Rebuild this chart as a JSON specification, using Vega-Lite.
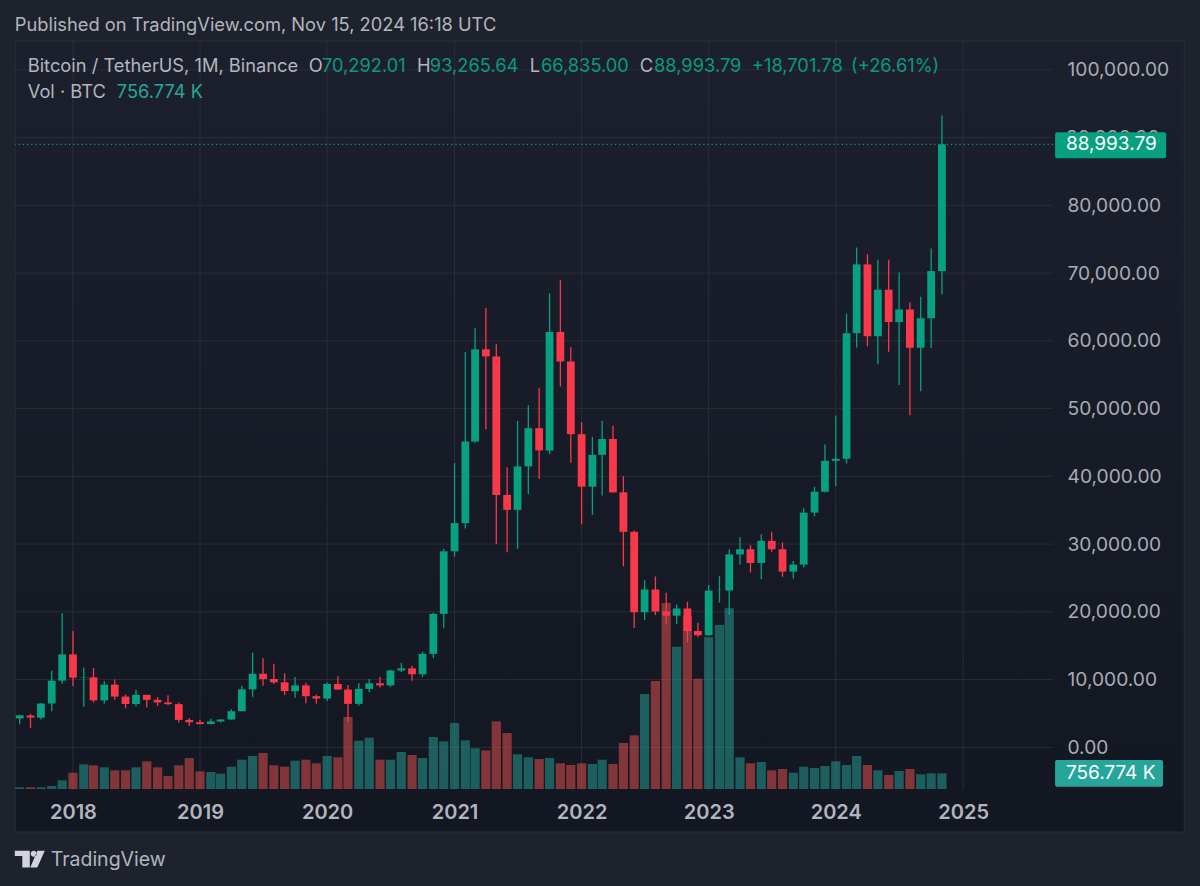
{
"$schema":"https://vega.github.io/schema/vega-lite/v6.json",
"width":1038,"height":749,
"padding":{"left":15,"top":41,"right":147,"bottom":96},
"autosize":{"type":"none"},
"background":"#1e222d",
"config":{"view":{"stroke":null},"text":{"font":"Inter"},"axis":{"labelFont":"Inter","title":null}},
"datasets":{
"candles":[
{"month":"2017-08-01","open":4261.48,"high":4745.42,"low":3400,"close":4724.89,"volume":80500,"dir":"up"},
{"month":"2017-09-01","open":4689.89,"high":4939.19,"low":2817,"close":4378.51,"volume":80500,"dir":"down"},
{"month":"2017-10-01","open":4378.49,"high":6498.01,"low":4110,"close":6463,"volume":80500,"dir":"up"},
{"month":"2017-11-01","open":6463,"high":11300.03,"low":5325.01,"close":9838.96,"volume":144900,"dir":"up"},
{"month":"2017-12-01","open":9837,"high":19798.68,"low":9380,"close":13716.36,"volume":418600,"dir":"up"},
{"month":"2018-01-01","open":13715.65,"high":17176.24,"low":9035,"close":10285.1,"volume":788900,"dir":"down"},
{"month":"2018-02-01","open":10285.1,"high":11786.01,"low":6000.01,"close":10326.76,"volume":1191400,"dir":"up"},
{"month":"2018-03-01","open":10325.64,"high":11710,"low":6600.1,"close":6923.91,"volume":1143100,"dir":"down"},
{"month":"2018-04-01","open":6922,"high":9759.82,"low":6430,"close":9246.01,"volume":1046500,"dir":"up"},
{"month":"2018-05-01","open":9246.01,"high":10020,"low":7032.95,"close":7485.01,"volume":901600,"dir":"down"},
{"month":"2018-06-01","open":7485.01,"high":7786.69,"low":5750,"close":6390.07,"volume":901600,"dir":"down"},
{"month":"2018-07-01","open":6391.08,"high":8491.77,"low":6070,"close":7730.93,"volume":1046500,"dir":"up"},
{"month":"2018-08-01","open":7735.67,"high":7750,"low":5880,"close":7011.21,"volume":1336300,"dir":"down"},
{"month":"2018-09-01","open":7011.21,"high":7410,"low":6111,"close":6626.57,"volume":1046500,"dir":"down"},
{"month":"2018-10-01","open":6626.57,"high":7680,"low":6205,"close":6371.93,"volume":627900,"dir":"down"},
{"month":"2018-11-01","open":6369.52,"high":6615.15,"low":3652.66,"close":4041.32,"volume":1143100,"dir":"down"},
{"month":"2018-12-01","open":4041.27,"high":4312.99,"low":3156.26,"close":3702.9,"volume":1497300,"dir":"down"},
{"month":"2019-01-01","open":3701.23,"high":4069.8,"low":3349.92,"close":3434.1,"volume":853300,"dir":"down"},
{"month":"2019-02-01","open":3434.1,"high":4198,"low":3373.1,"close":3813.69,"volume":821100,"dir":"up"},
{"month":"2019-03-01","open":3814.26,"high":4140,"low":3670.69,"close":4103.95,"volume":740600,"dir":"up"},
{"month":"2019-04-01","open":4102.44,"high":5600,"low":4067,"close":5320.81,"volume":1078700,"dir":"up"},
{"month":"2019-05-01","open":5321.94,"high":9074.26,"low":5316.2,"close":8555,"volume":1416800,"dir":"up"},
{"month":"2019-06-01","open":8555,"high":13970,"low":7444.58,"close":10854.1,"volume":1593900,"dir":"up"},
{"month":"2019-07-01","open":10854.1,"high":13147.08,"low":9070,"close":10080.53,"volume":1738800,"dir":"down"},
{"month":"2019-08-01","open":10080.53,"high":12325,"low":9350.41,"close":9587.47,"volume":1143100,"dir":"down"},
{"month":"2019-09-01","open":9588.74,"high":10905.87,"low":7710,"close":8289.34,"volume":1078700,"dir":"down"},
{"month":"2019-10-01","open":8289.97,"high":10370,"low":7300,"close":9140.85,"volume":1368500,"dir":"up"},
{"month":"2019-11-01","open":9140.86,"high":9513.68,"low":6515,"close":7541.89,"volume":1416800,"dir":"down"},
{"month":"2019-12-01","open":7540.63,"high":7750,"low":6435,"close":7195.23,"volume":1239700,"dir":"down"},
{"month":"2020-01-01","open":7195.24,"high":9578,"low":6834,"close":9352.89,"volume":1593900,"dir":"up"},
{"month":"2020-02-01","open":9351.71,"high":10500,"low":8445,"close":8523.61,"volume":1529500,"dir":"down"},
{"month":"2020-03-01","open":8523.61,"high":9188,"low":3782.13,"close":6410.44,"volume":3477600,"dir":"down"},
{"month":"2020-04-01","open":6412.14,"high":9460,"low":6150.11,"close":8620,"volume":2334500,"dir":"up"},
{"month":"2020-05-01","open":8620,"high":10067,"low":8117,"close":9448.27,"volume":2479400,"dir":"up"},
{"month":"2020-06-01","open":9448.27,"high":10380,"low":8833,"close":9138.55,"volume":1416800,"dir":"down"},
{"month":"2020-07-01","open":9138.08,"high":11444,"low":8913.47,"close":11335.46,"volume":1416800,"dir":"up"},
{"month":"2020-08-01","open":11335.46,"high":12468,"low":11100,"close":11649.51,"volume":1787100,"dir":"up"},
{"month":"2020-09-01","open":11649.51,"high":12050.85,"low":9825,"close":10776.59,"volume":1642200,"dir":"down"},
{"month":"2020-10-01","open":10776.59,"high":14100,"low":10374,"close":13791,"volume":1497300,"dir":"up"},
{"month":"2020-11-01","open":13791,"high":19863.16,"low":13195.05,"close":19695.87,"volume":2511600,"dir":"up"},
{"month":"2020-12-01","open":19695.87,"high":29300,"low":17572.33,"close":28923.63,"volume":2302300,"dir":"up"},
{"month":"2021-01-01","open":28923.63,"high":41950,"low":28130,"close":33092.98,"volume":3187800,"dir":"up"},
{"month":"2021-02-01","open":33092.97,"high":58352.8,"low":32296.16,"close":45135.66,"volume":2350600,"dir":"up"},
{"month":"2021-03-01","open":45134.11,"high":61844,"low":44950.53,"close":58740.55,"volume":1964200,"dir":"up"},
{"month":"2021-04-01","open":58739.46,"high":64854,"low":46930,"close":57694.27,"volume":1867600,"dir":"down"},
{"month":"2021-05-01","open":57697.25,"high":59500,"low":30000,"close":37253.81,"volume":3268300,"dir":"down"},
{"month":"2021-06-01","open":37253.82,"high":41330,"low":28805,"close":35045,"volume":2704800,"dir":"down"},
{"month":"2021-07-01","open":35045,"high":48168,"low":29278,"close":41461.83,"volume":1674400,"dir":"up"},
{"month":"2021-08-01","open":41461.84,"high":50500,"low":37332.7,"close":47100.89,"volume":1529500,"dir":"up"},
{"month":"2021-09-01","open":47100.89,"high":53000,"low":39600,"close":43824.1,"volume":1449000,"dir":"down"},
{"month":"2021-10-01","open":43820.01,"high":67000,"low":43283.03,"close":61299.8,"volume":1497300,"dir":"up"},
{"month":"2021-11-01","open":61299.81,"high":69000,"low":53256.64,"close":56950.56,"volume":1239700,"dir":"down"},
{"month":"2021-12-01","open":56950.56,"high":59053.55,"low":42000.3,"close":46216.93,"volume":1159200,"dir":"down"},
{"month":"2022-01-01","open":46216.93,"high":47990,"low":32917.17,"close":38466.9,"volume":1239700,"dir":"down"},
{"month":"2022-02-01","open":38466.9,"high":45821,"low":34322.28,"close":43160,"volume":1207500,"dir":"up"},
{"month":"2022-03-01","open":43160,"high":48189.84,"low":37155,"close":45510.34,"volume":1416800,"dir":"up"},
{"month":"2022-04-01","open":45510.35,"high":47444.11,"low":37578.2,"close":37630.8,"volume":1207500,"dir":"down"},
{"month":"2022-05-01","open":37630.8,"high":40023.77,"low":26700,"close":31801.04,"volume":2221800,"dir":"down"},
{"month":"2022-06-01","open":31801.05,"high":31982.97,"low":17622,"close":19942.21,"volume":2592100,"dir":"down"},
{"month":"2022-07-01","open":19942.21,"high":24668,"low":18781.34,"close":23293.32,"volume":4588500,"dir":"up"},
{"month":"2022-08-01","open":23296.36,"high":25211.32,"low":19520,"close":20050.02,"volume":5216400,"dir":"down"},
{"month":"2022-09-01","open":20048.44,"high":22799,"low":18125.98,"close":19422.61,"volume":8983800,"dir":"down"},
{"month":"2022-10-01","open":19422.61,"high":21085,"low":18190,"close":20490.74,"volume":6874700,"dir":"up"},
{"month":"2022-11-01","open":20490.74,"high":21480.65,"low":15476,"close":17163.64,"volume":8355900,"dir":"down"},
{"month":"2022-12-01","open":17165.53,"high":18387.95,"low":16256.3,"close":16542.4,"volume":5329100,"dir":"down"},
{"month":"2023-01-01","open":16541.77,"high":23960.54,"low":16499.01,"close":23125.13,"volume":7325500,"dir":"up"},
{"month":"2023-02-01","open":23125.13,"high":25250,"low":21351.07,"close":23141.57,"volume":7921200,"dir":"up"},
{"month":"2023-03-01","open":23141.57,"high":29184.68,"low":19549.09,"close":28465.36,"volume":8726200,"dir":"up"},
{"month":"2023-04-01","open":28465.36,"high":31000,"low":26942.82,"close":29233.21,"volume":1529500,"dir":"up"},
{"month":"2023-05-01","open":29233.2,"high":29820,"low":25811.46,"close":27210.26,"volume":1239700,"dir":"down"},
{"month":"2023-06-01","open":27210.26,"high":31431.94,"low":24800,"close":30472,"volume":1304100,"dir":"up"},
{"month":"2023-07-01","open":30471.99,"high":31804.2,"low":28861.9,"close":29232.25,"volume":901600,"dir":"down"},
{"month":"2023-08-01","open":29232.26,"high":30244,"low":25166,"close":25940.78,"volume":966000,"dir":"down"},
{"month":"2023-09-01","open":25940.77,"high":27483.57,"low":24901,"close":26962.56,"volume":788900,"dir":"up"},
{"month":"2023-10-01","open":26962.57,"high":35280,"low":26538.66,"close":34639.77,"volume":1078700,"dir":"up"},
{"month":"2023-11-01","open":34639.78,"high":38450,"low":34097.39,"close":37723.96,"volume":1014300,"dir":"up"},
{"month":"2023-12-01","open":37723.97,"high":44700,"low":37615.86,"close":42283.58,"volume":1110900,"dir":"up"},
{"month":"2024-01-01","open":42283.58,"high":48969.48,"low":38555,"close":42580.5,"volume":1336300,"dir":"up"},
{"month":"2024-02-01","open":42580.5,"high":64000,"low":41884.28,"close":61130.98,"volume":1159200,"dir":"up"},
{"month":"2024-03-01","open":61130.99,"high":73777,"low":59005,"close":71280.01,"volume":1593900,"dir":"up"},
{"month":"2024-04-01","open":71280,"high":72797.99,"low":59191.6,"close":60672,"volume":1159200,"dir":"down"},
{"month":"2024-05-01","open":60672.01,"high":71979,"low":56552.82,"close":67540.01,"volume":901600,"dir":"up"},
{"month":"2024-06-01","open":67540.01,"high":71958.71,"low":58402,"close":62772.01,"volume":676200,"dir":"down"},
{"month":"2024-07-01","open":62772.01,"high":70079.99,"low":53485.93,"close":64628,"volume":869400,"dir":"up"},
{"month":"2024-08-01","open":64628.01,"high":65659.78,"low":49000,"close":58973.99,"volume":966000,"dir":"down"},
{"month":"2024-09-01","open":58974,"high":66498,"low":52550,"close":63327.59,"volume":708400,"dir":"up"},
{"month":"2024-10-01","open":63327.6,"high":73620.12,"low":58946,"close":70292.01,"volume":756700,"dir":"up"},
{"month":"2024-11-01","open":70292.01,"high":93265.64,"low":66835,"close":88993.79,"volume":756774,"dir":"up"}
],
"years":[{"year":"2018-01-01"},{"year":"2019-01-01"},{"year":"2020-01-01"},{"year":"2021-01-01"},{"year":"2022-01-01"},{"year":"2023-01-01"},{"year":"2024-01-01"},{"year":"2025-01-01"}],
"levels":[{"level":0},{"level":10000},{"level":20000},{"level":30000},{"level":40000},{"level":50000},{"level":60000},{"level":70000},{"level":80000},{"level":90000},{"level":100000}]
},
"resolve":{"scale":{"y":"independent"},"axis":{"y":"independent"}},
"layer":[
{"data":{"values":[{"from":"2017-07-19","to":"2026-09-28","top":104251,"bottom":-12502}]},
 "mark":{"type":"rect","stroke":"#2a2e39","strokeWidth":1,"fill":{"gradient":"linear","x1":0,"y1":0,"x2":0,"y2":1,"stops":[{"offset":0,"color":"#1c202c"},{"offset":1,"color":"#131722"}]}},
 "encoding":{
  "x":{"field":"from","type":"temporal","scale":{"type":"utc","padding":0,"domain":["2017-07-18T12:00:00Z","2025-09-16T00:00:00Z"]},"axis":{"values":["2018-01-01","2019-01-01","2020-01-01","2021-01-01","2022-01-01","2023-01-01","2024-01-01","2025-01-01"],"format":"%Y","formatType":"utc","title":null,"grid":false,"domain":false,"ticks":false,"labelPadding":12,"labelFontSize":20,"labelFontWeight":600,"labelColor":"#b2b5be","labelFlush":false,"labelOverlap":false,"zindex":1}},
  "x2":{"field":"to"},
  "y":{"field":"top","type":"quantitative","scale":{"domain":[-6303,104251],"nice":false,"zero":false},"axis":null},
  "y2":{"field":"bottom"}}},
{"data":{"name":"years"},
 "mark":{"type":"rule","color":"#2a2e39","strokeWidth":1,"opacity":0.95},
 "encoding":{
  "x":{"field":"year","type":"temporal"}}},
{"data":{"name":"levels"},
 "mark":{"type":"rule","color":"#2a2e39","strokeWidth":1,"opacity":0.95},
 "encoding":{
  "y":{"field":"level","type":"quantitative","scale":{"domain":[-6303,104251],"nice":false,"zero":false},"axis":{"orient":"right","values":[0,10000,20000,30000,40000,50000,60000,70000,80000,100000],"format":",.2f","title":null,"grid":false,"domain":false,"ticks":false,"labelPadding":14,"labelFontSize":19.2,"labelColor":"#a8abb4","labelAlign":"left","labelBaseline":"middle","labelFlush":false,"labelOverlap":false,"zindex":1}}}},
{"data":{"name":"candles"},
 "mark":{"type":"bar","size":9.2,"opacity":0.5},
 "encoding":{
  "x":{"field":"month","type":"temporal"},
  "y":{"field":"volume","type":"quantitative","scale":{"domain":[-48300,36128400],"nice":false},"axis":null},
  "fill":{"field":"dir","type":"nominal","scale":{"domain":["up","down"],"range":["#26a69a","#ef5350"]},"legend":null}}},
{"data":{"name":"candles"},
 "mark":{"type":"rule","strokeWidth":1.3},
 "encoding":{
  "x":{"field":"month","type":"temporal"},
  "y":{"field":"low","type":"quantitative","scale":{"domain":[-6303,104251],"nice":false,"zero":false},"axis":null},
  "y2":{"field":"high"},
  "color":{"field":"dir","type":"nominal","scale":{"domain":["up","down"],"range":["#07a080","#f9384a"]},"legend":null}}},
{"data":{"name":"candles"},
 "mark":{"type":"bar","size":7.8},
 "encoding":{
  "x":{"field":"month","type":"temporal"},
  "y":{"field":"open","type":"quantitative","scale":{"domain":[-6303,104251],"nice":false,"zero":false},"axis":null},
  "y2":{"field":"close"},
  "color":{"field":"dir","type":"nominal","scale":{"domain":["up","down"],"range":["#07a080","#f9384a"]},"legend":null}}},
{"data":{"values":[{"price":88993.79}]},
 "mark":{"type":"rule","color":"#07a080","strokeWidth":1.2,"strokeDash":[1.2,3]},
 "encoding":{"y":{"field":"price","type":"quantitative","scale":{"domain":[-6303,104251],"nice":false,"zero":false},"axis":null}}},
{"data":{"values":[{"label":"90,000.00","at":"2025-10-23","price":90000}]},
 "mark":{"type":"text","align":"left","baseline":"middle","fontSize":19.2,"color":"#a8abb4"},
 "encoding":{
  "x":{"field":"at","type":"temporal"},
  "y":{"field":"price","type":"quantitative","scale":{"domain":[-6303,104251],"nice":false,"zero":false},"axis":null},
  "text":{"field":"label"}}},
{"data":{"values":[{"from":"2025-09-22","to":"2026-08-07","top":90775,"bottom":86937}]},
 "mark":{"type":"rect","fill":"#07a080","cornerRadius":2},
 "encoding":{
  "x":{"field":"from","type":"temporal"},"x2":{"field":"to"},
  "y":{"field":"top","type":"quantitative","scale":{"domain":[-6303,104251],"nice":false,"zero":false},"axis":null},"y2":{"field":"bottom"}}},
{"data":{"values":[{"from":"2025-09-22","to":"2026-07-29","top":-1875,"bottom":-5815}]},
 "mark":{"type":"rect","fill":"#26a69a","cornerRadius":2},
 "encoding":{
  "x":{"field":"from","type":"temporal"},"x2":{"field":"to"},
  "y":{"field":"top","type":"quantitative","scale":{"domain":[-6303,104251],"nice":false,"zero":false},"axis":null},"y2":{"field":"bottom"}}},
{"data":{"values":[{"label":"88,993.79","at":"2025-10-23","price":88993.79},{"label":"756.774 K","at":"2025-10-23","price":-3793}]},
 "mark":{"type":"text","align":"left","baseline":"middle","fontSize":19,"color":"#ffffff"},
 "encoding":{
  "x":{"field":"at","type":"temporal"},
  "y":{"field":"price","type":"quantitative","scale":{"domain":[-6303,104251],"nice":false,"zero":false},"axis":null},
  "text":{"field":"label"}}},
{"data":{"values":[
  {"label":"Published on TradingView.com, Nov 15, 2024 16:18 UTC","at":"2017-07-18","price":106465},
  {"label":"Bitcoin / TetherUS, 1M, Binance","at":"2017-08-24","price":100413},
  {"label":"O","at":"2019-11-09","price":100413},
  {"label":"H","at":"2020-09-15","price":100413},
  {"label":"L","at":"2021-08-05","price":100413},
  {"label":"C","at":"2022-06-17","price":100413},
  {"label":"Vol · BTC","at":"2017-08-24","price":96575}]},
 "mark":{"type":"text","align":"left","baseline":"middle","fontSize":18.3,"color":"#b2b5be"},
 "encoding":{
  "x":{"field":"at","type":"temporal"},
  "y":{"field":"price","type":"quantitative","scale":{"domain":[-6303,104251],"nice":false,"zero":false},"axis":null},
  "text":{"field":"label"}}},
{"data":{"values":[{"label":"TradingView","at":"2017-10-29","price":-16635}]},
 "mark":{"type":"text","align":"left","baseline":"middle","fontSize":19.5,"color":"#b2b5be"},
 "encoding":{
  "x":{"field":"at","type":"temporal"},
  "y":{"field":"price","type":"quantitative","scale":{"domain":[-6303,104251],"nice":false,"zero":false},"axis":null},
  "text":{"field":"label"}}},
{"data":{"values":[
  {"label":"70,292.01","at":"2019-12-17","price":100413},
  {"label":"93,265.64","at":"2020-10-22","price":100413},
  {"label":"66,835.00","at":"2021-09-06","price":100413},
  {"label":"88,993.79","at":"2022-07-28","price":100413},
  {"label":"+18,701.78","at":"2023-05-05","price":100413},
  {"label":"(+26.61%)","at":"2024-02-14","price":100413}]},
 "mark":{"type":"text","align":"left","baseline":"middle","fontSize":18.3,"color":"#089981"},
 "encoding":{
  "x":{"field":"at","type":"temporal"},
  "y":{"field":"price","type":"quantitative","scale":{"domain":[-6303,104251],"nice":false,"zero":false},"axis":null},
  "text":{"field":"label"}}},
{"data":{"values":[{"label":"756.774 K","at":"2018-05-07","price":96575}]},
 "mark":{"type":"text","align":"left","baseline":"middle","fontSize":18.3,"color":"#26a69a"},
 "encoding":{
  "x":{"field":"at","type":"temporal"},
  "y":{"field":"price","type":"quantitative","scale":{"domain":[-6303,104251],"nice":false,"zero":false},"axis":null},
  "text":{"field":"label"}}},
{"data":{"values":[{"at":"2017-08-30","price":-16500}]},
 "mark":{"type":"point","filled":true,"opacity":1,"size":900,"color":"#d1d4dc","shape":"M-1 -0.562 H0 V0.562 H-0.5 V-0.2 H-1 Z M0.058 -0.36 a0.2 0.2 0 1 0 0.4 0 a0.2 0.2 0 1 0 -0.4 0 Z M0.506 -0.562 H1 L0.5 0.562 H0.03 Z"},
 "encoding":{
  "x":{"field":"at","type":"temporal"},
  "y":{"field":"price","type":"quantitative","scale":{"domain":[-6303,104251],"nice":false,"zero":false},"axis":null}}}
]
}
